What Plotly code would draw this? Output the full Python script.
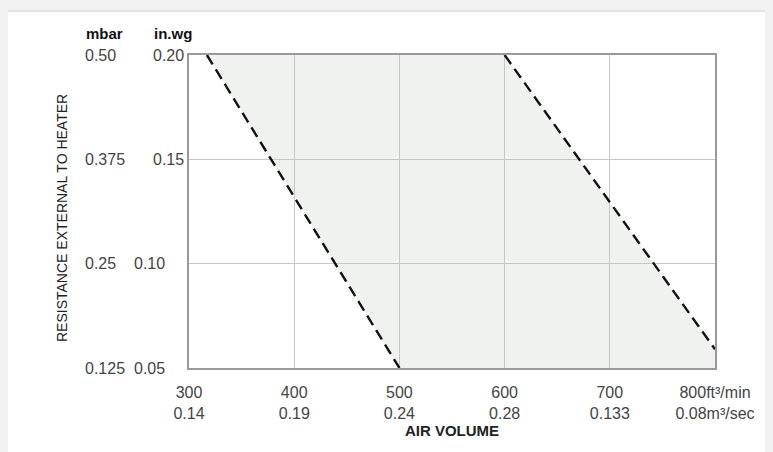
import plotly.graph_objects as go

# ---- data ----
x_ticks = [300, 400, 500, 600, 700, 800]
x_labels_ft = ["300", "400", "500", "600", "700", "800ft³/min"]
x_labels_m = ["0.14", "0.19", "0.24", "0.28", "0.133", "0.08m³/sec"]

inwg_ticks = [0.20, 0.15, 0.10, 0.05]
mbar_labels = ["0.50", "0.375", "0.25", "0.125"]
inwg_labels = ["0.20", "0.15", "0.10", "0.05"]

# dashed boundary lines (air volume ft3/min, resistance in.wg)
left_line_x = [317, 500]
left_line_y = [0.20, 0.05]
right_line_x = [600, 800]
right_line_y = [0.20, 0.059]

# shaded operating region
region_x = [317, 600, 800, 800, 500]
region_y = [0.20, 0.20, 0.059, 0.05, 0.05]

# ---- layout geometry (figure pixels; page body adds an 8px offset) ----
OFF = 8
W, H = 765, 444
L, T = 181, 47
R = W - (715 - OFF)
B = H - (368 - OFF)
pw, ph = W - L - R, H - T - B


def px(p):  # screenshot x pixel -> paper x
    return (p - OFF - L) / pw


def py(p):  # screenshot y pixel -> paper y
    return (H - B - (p - OFF)) / ph


fig = go.Figure()

fig.add_trace(go.Scatter(
    x=region_x, y=region_y, fill="toself", mode="lines",
    line=dict(width=0), fillcolor="rgba(190,200,190,0.23)",
    hoverinfo="skip", showlegend=False))

for xs, ys in [(left_line_x, left_line_y), (right_line_x, right_line_y)]:
    fig.add_trace(go.Scatter(
        x=xs, y=ys, mode="lines",
        line=dict(color="#111111", width=2.4, dash="11px,6px"),
        showlegend=False, hoverinfo="skip"))

font_main = "Liberation Sans, Arial, sans-serif"
FS = 16

fig.update_xaxes(
    range=[300, 800], tickvals=x_ticks,
    ticktext=[f"{a}<br>{b}" for a, b in zip(x_labels_ft, x_labels_m)],
    showgrid=True, gridcolor="#c8c8c8", gridwidth=1,
    showline=True, linecolor="#9a9a9a", linewidth=2, mirror=True,
    ticks="outside", ticklen=9, tickcolor="rgba(0,0,0,0)",
    tickfont=dict(family=font_main, size=FS, color="#444444"),
    zeroline=False, fixedrange=True,
    title=dict(text="<b>AIR VOLUME</b>", standoff=2,
               font=dict(family=font_main, size=15, color="#222222")),
)
fig.update_yaxes(
    range=[0.05, 0.20], tickvals=inwg_ticks, showticklabels=False,
    showgrid=True, gridcolor="#c8c8c8", gridwidth=1,
    showline=True, linecolor="#9a9a9a", linewidth=2, mirror=True,
    ticks="", zeroline=False, fixedrange=True,
)

annotations = []
lab_font = dict(family=font_main, size=FS, color="#444444")
inwg_right = [186, 186, 167, 167]
for v, m, w, xr in zip(inwg_ticks, mbar_labels, inwg_labels, inwg_right):
    annotations.append(dict(x=px(83), y=v, xref="paper", yref="y", text=m,
                            xanchor="left", yanchor="middle", showarrow=False,
                            font=lab_font))
    annotations.append(dict(x=px(xr), y=v, xref="paper", yref="y", text=w,
                            xanchor="right", yanchor="middle", showarrow=False,
                            font=lab_font))

annotations.append(dict(x=px(84), y=py(34), xref="paper", yref="paper",
                        text="<b>mbar</b>", xanchor="left", yanchor="middle",
                        showarrow=False,
                        font=dict(family=font_main, size=15, color="#111111")))
annotations.append(dict(x=px(152), y=py(34), xref="paper", yref="paper",
                        text="<b>in.wg</b>", xanchor="left", yanchor="middle",
                        showarrow=False,
                        font=dict(family=font_main, size=15, color="#111111")))
annotations.append(dict(x=px(62), y=py(218), xref="paper", yref="paper",
                        text="RESISTANCE EXTERNAL TO HEATER", textangle=-90,
                        xanchor="center", yanchor="middle", showarrow=False,
                        font=dict(family=font_main, size=14, color="#222222")))

shapes = [
    dict(type="rect", xref="paper", yref="paper", layer="below",
         x0=px(7), x1=px(W + 40), y0=py(10), y1=py(H + 40),
         fillcolor="#e4e4e4", line=dict(width=0)),
    dict(type="rect", xref="paper", yref="paper", layer="below",
         x0=px(8), x1=px(W + 40), y0=py(12), y1=py(H + 40),
         fillcolor="#ffffff", line=dict(width=0)),
]

fig.update_layout(
    width=W, height=H,
    margin=dict(l=L, r=R, t=T, b=B),
    paper_bgcolor="#f2f2f2", plot_bgcolor="rgba(0,0,0,0)",
    annotations=annotations, shapes=shapes,
    showlegend=False,
)

fig.write_html("out.html",
               post_script="document.body.style.background='#f2f2f2';")
